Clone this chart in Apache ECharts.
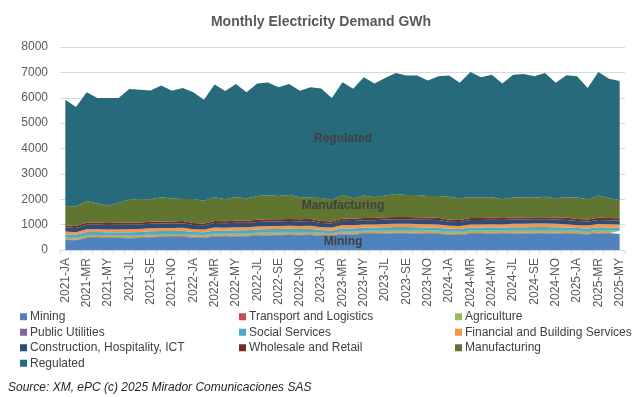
<!DOCTYPE html>
<html>
<head>
<meta charset="utf-8">
<script src="https://cdn.jsdelivr.net/npm/echarts@6/dist/echarts.min.js"></script>
<style>
html,body{margin:0;padding:0;background:#fff;}
#chart{width:642px;height:397px;}
</style>
</head>
<body>
<div id="chart"></div>
<script>
// Categories (year-month codes)
var categories = [
 "2021-JA","2021-FE","2021-MR","2021-AP","2021-MY","2021-JN","2021-JL","2021-AU","2021-SE","2021-OC","2021-NO","2021-DE",
 "2022-JA","2022-FE","2022-MR","2022-AP","2022-MY","2022-JN","2022-JL","2022-AU","2022-SE","2022-OC","2022-NO","2022-DE",
 "2023-JA","2023-FE","2023-MR","2023-AP","2023-MY","2023-JN","2023-JL","2023-AU","2023-SE","2023-OC","2023-NO","2023-DE",
 "2024-JA","2024-FE","2024-MR","2024-AP","2024-MY","2024-JN","2024-JL","2024-AU","2024-SE","2024-OC","2024-NO","2024-DE",
 "2025-JA","2025-FE","2025-MR","2025-AP","2025-MY"
];

// Series values (GWh)
var mining = [395,380,470,480,470,470,465,470,500,510,510,520,
 490,480,530,520,540,540,560,580,580,590,580,590,
 560,550,620,610,640,640,650,660,660,650,640,630,
 610,600,640,640,650,640,650,650,660,660,650,640,
 630,620,650,640,630];
var transport = [30,28,30,30,30,30,30,30,30,30,30,30,
 30,28,30,30,30,30,30,30,30,30,30,30,
 30,28,32,32,32,32,32,32,32,32,32,32,
 32,30,32,32,32,32,32,32,32,32,32,32,
 32,30,32,32,32];
var agriculture = [60,58,62,62,62,62,64,64,64,64,64,64,
 62,60,66,66,66,66,68,68,68,68,68,68,
 66,64,70,70,70,70,72,72,72,72,72,72,
 70,68,72,72,72,72,74,74,74,74,74,74,
 72,70,74,74,74];
var publicUtilities = [20,19,20,20,20,20,20,20,20,20,20,20,
 20,19,20,20,20,20,20,20,20,20,20,20,
 20,19,20,20,20,20,20,20,20,20,20,20,
 20,19,20,20,20,20,20,20,20,20,20,20,
 20,19,20,20,20];
var socialServices = [120,115,125,120,120,120,125,125,125,125,125,120,
 110,110,120,120,120,120,125,125,125,125,125,120,
 110,110,120,120,120,120,125,125,125,125,125,120,
 110,110,120,120,120,120,125,125,125,125,125,120,
 110,110,120,120,120];
var financial = [100,95,110,110,105,110,115,115,115,115,115,120,
 110,110,120,120,120,120,125,125,125,125,125,130,
 115,115,125,125,125,125,130,130,130,130,130,130,
 115,115,125,125,125,125,130,130,130,130,130,130,
 115,115,125,125,125];
var construction = [175,170,180,180,175,180,180,180,180,180,180,180,
 165,165,175,175,175,175,180,180,180,180,180,180,
 160,160,170,170,170,170,175,175,175,175,175,175,
 160,160,170,170,170,170,170,170,170,170,170,170,
 160,160,165,165,165];
var wholesale = [80,78,82,80,80,80,82,82,82,82,82,90,
 78,76,80,80,80,80,82,82,82,82,82,90,
 78,76,82,82,82,82,84,84,84,84,84,90,
 78,76,82,82,82,82,84,84,84,84,84,90,
 78,76,82,82,82];
var manufacturing = [758,772,856,748,678,788,899,924,884,954,904,866,
 945,892,939,869,939,879,940,950,920,950,870,832,
 911,853,933,811,886,821,857,912,872,882,852,861,
 905,862,819,819,809,739,785,795,760,805,755,804,
 853,800,877,782,727];
var regulated = [4187,3921,4280,4160,4250,4130,4365,4310,4290,4398,4250,4370,
 4205,3985,4440,4270,4450,4185,4430,4440,4280,4370,4200,4350,
 4310,4015,4438,4310,4665,4480,4635,4770,4710,4710,4550,4720,
 4780,4550,4930,4730,4830,4560,4840,4860,4795,4880,4550,4810,
 4780,4380,4865,4710,4685];

var yTicks = [0,1000,2000,3000,4000,5000,6000,7000,8000];

var seriesNames = ["Mining","Transport and Logistics","Agriculture","Public Utilities","Social Services",
 "Financial and Building Services","Construction, Hospitality, ICT","Wholesale and Retail","Manufacturing","Regulated"];
var seriesData = [mining,transport,agriculture,publicUtilities,socialServices,financial,construction,wholesale,manufacturing,regulated];
var colors = ["#4F81BD","#C0504D","#9BBB59","#8064A2","#4BACC6","#F79646","#2C4D75","#772C2A","#5F7530","#276A7C"];

var chart = echarts.init(document.getElementById('chart'), null, {renderer:'canvas'});

var series = seriesNames.map(function(n,i){
  return {
    name:n, type:'line', stack:'total', data:seriesData[i],
    symbol:'none', lineStyle:{width:0}, areaStyle:{color:colors[i], opacity:1},
    itemStyle:{color:colors[i]}, emphasis:{disabled:true}, animation:false
  };
});

var fontFam = '"Liberation Sans", Arial, sans-serif';
function legendCol(names, left){
  return {
    data:names, orient:'vertical', left:left, top:310, itemWidth:7, itemHeight:7, itemGap:2,
    icon:'rect', selectedMode:false, padding:0,
    textStyle:{fontSize:12, color:'#404040', fontFamily:fontFam, padding:[0,0,0,-2], lineHeight:13.5}
  };
}

chart.setOption({
  animation:false,
  color:colors,
  title:{text:'Monthly Electricity Demand GWh', left:'center', top:10,
    textStyle:{fontSize:14, fontWeight:'bold', color:'#595959', fontFamily:fontFam}},
  grid:{left:60, right:17, top:47, bottom:147, containLabel:false},
  xAxis:{type:'category', data:categories, boundaryGap:true,
    axisLine:{lineStyle:{color:'#D9D9D9'}},
    axisTick:{show:true, interval:0, length:4, lineStyle:{color:'#D9D9D9'}},
    axisLabel:{rotate:90, interval:1, fontSize:12, color:'#595959', fontFamily:fontFam, margin:8}},
  yAxis:{type:'value', min:yTicks[0], max:yTicks[yTicks.length-1], interval:1000,
    axisLine:{show:false}, axisTick:{show:false},
    splitLine:{lineStyle:{color:'#D9D9D9'}},
    axisLabel:{fontSize:12, color:'#595959', fontFamily:fontFam, margin:12,
      formatter:function(v){return String(v);}}},
  legend:[
    legendCol(["Mining","Public Utilities","Construction, Hospitality, ICT","Regulated"], 20),
    legendCol(["Transport and Logistics","Social Services","Wholesale and Retail"], 239),
    legendCol(["Agriculture","Financial and Building Services","Manufacturing"], 455)
  ],
  graphic:[
    {type:'text', left:8, top:382, style:{text:'Source: XM, ePC (c) 2025 Mirador Comunicaciones SAS',
      font:'italic 12px "Liberation Sans", Arial, sans-serif', fill:'#262626'}},
    {type:'text', x:343, y:139, style:{text:'Regulated', align:'center', verticalAlign:'middle',
      font:'bold 12px "Liberation Sans", Arial, sans-serif', fill:'#404040'}, z:100},
    {type:'text', x:343, y:206, style:{text:'Manufacturing', align:'center', verticalAlign:'middle',
      font:'bold 12px "Liberation Sans", Arial, sans-serif', fill:'#404040'}, z:100},
    {type:'text', x:343, y:242, style:{text:'Mining', align:'center', verticalAlign:'middle',
      font:'bold 12px "Liberation Sans", Arial, sans-serif', fill:'#404040'}, z:100}
  ],
  series:series
});
</script>
</body>
</html>
